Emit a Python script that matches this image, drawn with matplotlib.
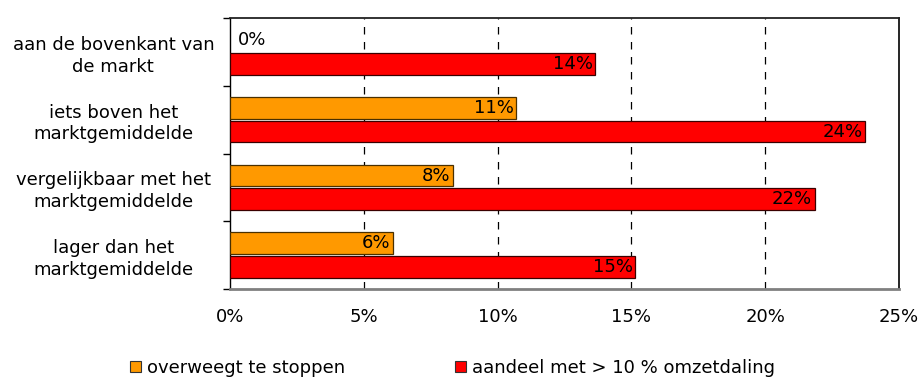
import matplotlib
matplotlib.use("Agg")
import matplotlib.pyplot as plt
import numpy as np
from matplotlib.patches import Patch

plt.rcParams['font.family'] = ['DejaVu Sans']

categories = [
    "aan de bovenkant van\nde markt",
    "iets boven het\nmarktgemiddelde",
    "vergelijkbaar met het\nmarktgemiddelde",
    "lager dan het\nmarktgemiddelde",
]
stoppen = [0.0, 10.7, 8.35, 6.1]          # overweegt te stoppen (%)
omzetdaling = [13.65, 23.75, 21.85, 15.15]  # aandeel met > 10 % omzetdaling (%)
series_names = ["overweegt te stoppen", "aandeel met > 10 % omzetdaling"]
xticks = [0, 5, 10, 15, 20, 25]

orange = "#FF9900"
red = "#FF0000"

fig = plt.figure(figsize=(9.2, 3.78), dpi=100)
ax = fig.add_axes([0.25, 0.2354, 0.727, 0.7166])

y = np.arange(len(categories))
h = 0.32
off = 0.175
lw_o = [0 if v == 0 else 0.9 for v in stoppen]
ax.barh(y - off, stoppen, height=h, color=orange, edgecolor="#4a3000", linewidth=lw_o, zorder=3)
ax.barh(y + off, omzetdaling, height=h, color=red, edgecolor="#3a0000", linewidth=0.9, zorder=3)

fs = 13
for yi, v in zip(y - off, stoppen):
    if v == 0:
        ax.text(0.3, yi, f"{v:.0f}%", ha="left", va="center", fontsize=fs, zorder=4)
    else:
        ax.text(v - 0.1, yi, f"{v:.0f}%", ha="right", va="center", fontsize=fs, zorder=4)
for yi, v in zip(y + off, omzetdaling):
    ax.text(v - 0.1, yi, f"{v:.0f}%", ha="right", va="center", fontsize=fs, zorder=4)

ax.set_xlim(0, 25)
ax.set_ylim(len(categories) - 0.5, -0.5)
ax.set_xticks(xticks)
ax.set_xticklabels([f"{t}%" for t in xticks], fontsize=fs)
ax.tick_params(axis="x", length=0, pad=14)

ax.set_yticks(y)
ax.set_yticklabels(categories, fontsize=fs, linespacing=1.25, ha="center")
ax.tick_params(axis="y", which="major", length=0, pad=84)
ax.set_yticks(np.arange(len(categories) + 1) - 0.5, minor=True)
ax.tick_params(axis="y", which="minor", length=5, width=1, color="black", direction="out")

for t in [5, 10, 15, 20]:
    ax.axvline(t, color="black", linestyle=(0, (6, 6)), linewidth=0.9, zorder=1)

ax.spines["left"].set_color("black")
ax.spines["left"].set_linewidth(1.0)
ax.spines["right"].set_color("black")
ax.spines["right"].set_linewidth(1.2)
ax.spines["top"].set_color("#222222")
ax.spines["top"].set_linewidth(1.3)
ax.spines["bottom"].set_color("#808080")
ax.spines["bottom"].set_linewidth(2.0)

handles = [Patch(facecolor=orange, edgecolor="#333333", linewidth=0.8),
           Patch(facecolor=red, edgecolor="#333333", linewidth=0.8)]
fig.legend(handles, series_names, loc="center", bbox_to_anchor=(0.492, 0.027),
           ncol=2, frameon=False, fontsize=fs, handlelength=0.6, handleheight=0.6,
           handletextpad=0.35, columnspacing=6.1)

fig.savefig("out.png", dpi=100, facecolor="white")
